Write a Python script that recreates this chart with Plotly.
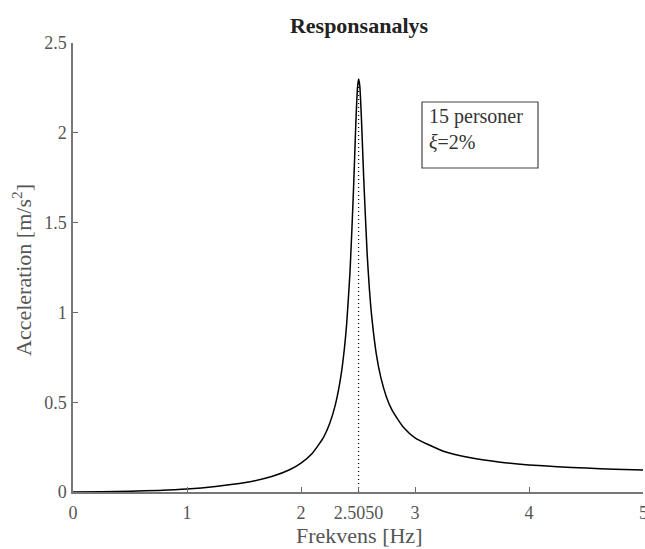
import plotly.graph_objects as go

# Values
freq = [0.0, 0.25, 0.5, 0.75, 1.0, 1.25, 1.5, 1.75, 1.9, 2.0, 2.1, 2.2, 2.25, 2.3, 2.35,
        2.38, 2.4, 2.43, 2.46, 2.48, 2.495, 2.505, 2.515, 2.53, 2.55, 2.58, 2.6, 2.62,
        2.66, 2.7, 2.75, 2.8, 2.9, 3.0, 3.25, 3.5, 3.75, 4.0, 4.25, 4.5, 4.75, 5.0]
accel = [0.0, 0.001, 0.004, 0.009, 0.017, 0.031, 0.051, 0.088, 0.124, 0.161, 0.216,
         0.307, 0.378, 0.482, 0.645, 0.795, 0.932, 1.226, 1.674, 2.036, 2.246, 2.300,
         2.265, 2.081, 1.749, 1.329, 1.130, 0.979, 0.771, 0.638, 0.528, 0.454, 0.359,
         0.302, 0.227, 0.189, 0.166, 0.151, 0.141, 0.133, 0.127, 0.123]
peak_x = 2.505
peak_y = 2.300
xtick_vals = [0, 1, 2, 2.505, 3, 4, 5]
xtick_text = ["0", "1", "2", "2.5050", "3", "4", "5"]
ytick_vals = [0, 0.5, 1, 1.5, 2, 2.5]
ytick_text = ["0", "0.5", "1", "1.5", "2", "2.5"]

FONT = "Liberation Serif"
GRAY = "#555555"
W, H = 645, 549
ML, MR, MT, MB = 73, 2, 43, 57
PW, PH = W - ML - MR, H - MT - MB


def px_x(p):
    return (p - ML) / PW


def px_y(p):
    return (H - MB - p) / PH


fig = go.Figure()
fig.add_trace(go.Scatter(x=freq, y=accel, mode="lines",
                         line=dict(color="black", width=1.5, shape="spline", smoothing=0.6),
                         showlegend=False, hoverinfo="skip"))
fig.add_trace(go.Scatter(x=[peak_x, peak_x], y=[0, peak_y], mode="lines",
                         line=dict(color="black", width=1.2, dash="1px,3px"),
                         showlegend=False, hoverinfo="skip"))

fig.update_layout(
    width=W, height=H,
    margin=dict(l=ML, r=MR, t=MT, b=MB),
    paper_bgcolor="white", plot_bgcolor="white",
    font=dict(family=FONT, color=GRAY, size=18),
    title=dict(text="<b>Responsanalys</b>", x=359 / W, xanchor="center",
               y=1 - 25 / H, yanchor="middle",
               font=dict(family=FONT, size=22, color="#222222")),
    xaxis=dict(range=[0, 5], tickvals=xtick_vals, ticktext=xtick_text,
               ticks="inside", ticklen=5, tickcolor="#666666", showgrid=False, zeroline=False,
               showline=True, linecolor="#777777", linewidth=1.5, ticklabelstandoff=4,
               tickfont=dict(family=FONT, size=18, color=GRAY)),
    yaxis=dict(range=[0, 2.5], tickvals=ytick_vals, ticktext=ytick_text,
               ticks="inside", ticklen=5, tickcolor="#666666", showgrid=False, zeroline=False,
               showline=True, linecolor="#777777", linewidth=1.5, ticklabelstandoff=1,
               tickfont=dict(family=FONT, size=18, color=GRAY)),
)

# clipped "5" tick label at the right edge (as in the reference)
fig.add_annotation(xref="x", yref="paper", x=5, y=px_y(513), xanchor="center", yanchor="middle",
                   showarrow=False, text=xtick_text[-1],
                   font=dict(family=FONT, size=18, color=GRAY))
# axis titles
fig.add_annotation(xref="paper", yref="paper", x=px_x(359), y=px_y(535), xanchor="center",
                   yanchor="middle", showarrow=False, text="Frekvens [Hz]",
                   font=dict(family=FONT, size=22, color=GRAY))
fig.add_annotation(xref="paper", yref="paper", x=px_x(22), y=px_y(270), xanchor="center",
                   yanchor="middle", showarrow=False, textangle=-90,
                   text="Acceleration [m/s<sup>2</sup>]",
                   font=dict(family=FONT, size=22, color=GRAY))

fig.add_shape(type="rect", xref="paper", yref="paper",
              x0=px_x(422), x1=px_x(538), y0=px_y(168), y1=px_y(102),
              line=dict(color="#444444", width=1.2), fillcolor="white", layer="above")
fig.add_annotation(xref="paper", yref="paper", x=px_x(427), y=px_y(103), xanchor="left",
                   yanchor="top", align="left", showarrow=False,
                   text="15 personer<br><i>ξ</i>=2%",
                   font=dict(family=FONT, size=20, color="#333333"))

fig.write_html("out.html", config={"displayModeBar": False},
               post_script="document.body.style.margin='0';document.body.style.overflow='hidden';")
